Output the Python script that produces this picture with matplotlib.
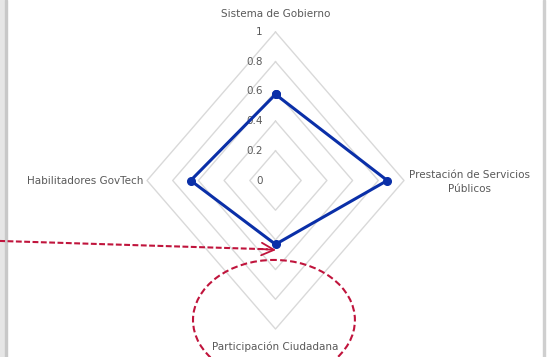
import numpy as np
import matplotlib
matplotlib.use('Agg')
import matplotlib.pyplot as plt
from matplotlib.patches import Ellipse, Rectangle

categories = ['Sistema de Gobierno', 'Prestación de Servicios\nPúblicos',
              'Participación Ciudadana', 'Habilitadores GovTech']
values = [0.58, 0.87, 0.43, 0.66]
ring_levels = [0.2, 0.4, 0.6, 0.8, 1.0]
tick_labels = ['0', '0.2', '0.4', '0.6', '0.8', '1']

W, H = 547, 357
cx, cy = 275.5, 180.5      # centre of the radar in pixels (from top-left)
sx, sy = 128.5, 148.5      # pixels per unit, horizontal / vertical

fig = plt.figure(figsize=(W / 100, H / 100), dpi=100)
ax = fig.add_axes([0, 0, 1, 1])
ax.set_xlim(-cx / sx, (W - cx) / sx)
ax.set_ylim(-(H - cy) / sy, cy / sy)
ax.axis('off')

# chart frame edges
ax.add_patch(Rectangle((0, 0), 5 / W, 1, transform=ax.transAxes,
                       color='#e6e6e6', zorder=0))
ax.add_patch(Rectangle((5 / W, 0), 1.5 / W, 1, transform=ax.transAxes,
                       color='#c8c8c8', zorder=0))
ax.add_patch(Rectangle((543 / W, 0), 1.5 / W, 1, transform=ax.transAxes,
                       color='#cfcfcf', zorder=0))

# angles clockwise from the top
theta = np.deg2rad([0, 90, 180, 270])

# grid rings (diamonds)
for r in ring_levels:
    gx = np.append(r * np.sin(theta), r * np.sin(theta[0]))
    gy = np.append(r * np.cos(theta), r * np.cos(theta[0]))
    ax.plot(gx, gy, color='#d9d9d9', lw=1.0, zorder=1)

# tick labels along the vertical axis
for lab, r in zip(tick_labels, [0] + ring_levels):
    ax.text(-0.1, r, lab, ha='right', va='center', fontsize=7.5, color='#595959')

# data series
vals = np.array(values + values[:1])
ang = np.append(theta, theta[0])
ax.plot(vals * np.sin(ang), vals * np.cos(ang), color='#0a2fa8', lw=2.2,
        marker='o', markersize=5.5, zorder=3)

# category labels
lab_color = '#595959'
ax.text(0, 1.12, categories[0], ha='center', va='center', fontsize=7.5, color=lab_color)
ax.text(1.04, -0.01, categories[1], ha='left', va='center', fontsize=7.5, color=lab_color,
        multialignment='center', linespacing=1.5)
ax.text(0, -1.12, categories[2], ha='center', va='center', fontsize=7.5, color=lab_color)
ax.text(-1.03, 0.0, categories[3], ha='right', va='center', fontsize=7.5, color=lab_color)

# red dashed callout: arrow and ellipse
red = '#c0143c'
ax.plot([-2.15, -0.06], [-0.407, -0.463], color=red, lw=1.5, ls=(0, (2.8, 1.2)), zorder=4)
ax.annotate('', xy=(0.004, -0.468), xytext=(-0.1, -0.462),
            arrowprops=dict(arrowstyle='->,head_length=0.9,head_width=0.45',
                            color=red, lw=1.3, shrinkA=0, shrinkB=0), zorder=4)
ax.add_patch(Ellipse((-0.012, -0.94), 1.26, 0.81, fill=False, ec=red, lw=1.5,
                     ls=(0, (3.2, 1.6)), zorder=4))

plt.savefig('out.png', dpi=100)
plt.close()
